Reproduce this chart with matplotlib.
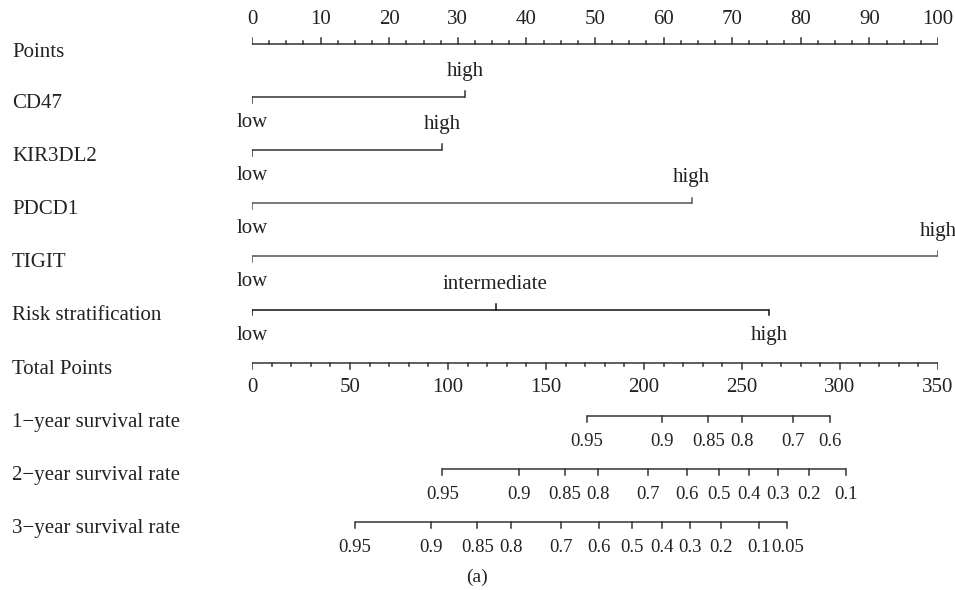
import matplotlib
matplotlib.use("Agg")
import matplotlib.pyplot as plt
import matplotlib.transforms as mtransforms

plt.rcParams['font.family'] = ['Liberation Serif', 'DejaVu Serif']

# Данные номограммы (баллы 0-100, общий балл 0-350)
row_names = ["Points", "CD47", "KIR3DL2", "PDCD1", "TIGIT", "Risk stratification",
             "Total Points", "1\u2212year survival rate", "2\u2212year survival rate",
             "3\u2212year survival rate"]

points_ticks = [0, 10, 20, 30, 40, 50, 60, 70, 80, 90, 100]
total_ticks = [0, 50, 100, 150, 200, 250, 300, 350]

cd47_levels = ["low", "high"]
cd47_points = [0, 31.1]
kir_levels = ["low", "high"]
kir_points = [0, 27.7]
pdcd1_levels = ["low", "high"]
pdcd1_points = [0, 64.1]
tigit_levels = ["low", "high"]
tigit_points = [0, 100]
risk_levels = ["low", "intermediate", "high"]
risk_points = [0, 35.5, 75.4]

surv1_labels = ["0.95", "0.9", "0.85", "0.8", "0.7", "0.6"]
surv1_total = [170.9, 209.3, 232.9, 250.1, 275.9, 294.9]
surv2_labels = ["0.95", "0.9", "0.85", "0.8", "0.7", "0.6", "0.5", "0.4", "0.3", "0.2", "0.1"]
surv2_total = [97.1, 136.1, 159.5, 176.7, 202.1, 221.7, 238.2, 253.6, 268.2, 284.0, 303.3]
surv3_labels = ["0.95", "0.9", "0.85", "0.8", "0.7", "0.6", "0.5", "0.4", "0.3", "0.2", "0.1", "0.05"]
surv3_total = [52.3, 91.4, 115.0, 132.0, 157.6, 177.1, 193.8, 209.0, 223.7, 239.4, 258.7, 273.1]

max_total = 350
fs = 15
fs_surv = 13.5
col = "#333333"
txt = "#222222"
lw = 1.1
tick_big = 0.11
tick_small = 0.055

fig = plt.figure(figsize=(9.55, 5.9), dpi=100)
ax = fig.add_axes([252 / 955, 0, 686 / 955, 1])
ax.set_xlim(0, 100)
ax.set_ylim(10.28, -0.83)
ax.axis("off")


def tp(v):
    # общий балл -> шкала баллов
    return v * 100 / max_total


# Подписи строк слева
lab_tr = mtransforms.blended_transform_factory(fig.transFigure, ax.transData)
for i, name in enumerate(row_names):
    off = 0.15 if i == 0 else 0.12
    ax.text(12 / 955, i + off, name, transform=lab_tr, fontsize=fs,
            ha="left", va="center", color=txt)

# Шкала Points
y = 0
ax.plot([0, 100], [y, y], color=col, lw=lw, solid_capstyle="butt")
minor = [k * 2.5 for k in range(41)]
for m in minor:
    h = tick_big if m in points_ticks else tick_small
    ax.plot([m, m], [y, y - h], color=col, lw=lw)
for t in points_ticks:
    ax.text(t, y - 0.46, str(t), fontsize=fs, ha="center", va="center", color=txt)


# Переменные
def var_row(y, levels, pts, below, lcolor=col):
    ax.plot([min(pts), max(pts)], [y, y], color=lcolor, lw=lw, solid_capstyle="butt")
    for lev, p, b in zip(levels, pts, below):
        if b:
            ax.plot([p, p], [y, y + tick_big], color=lcolor, lw=lw)
            ax.text(p, y + 0.48, lev, fontsize=fs, ha="center", va="center", color=txt)
        else:
            ax.plot([p, p], [y, y - tick_big], color=lcolor, lw=lw)
            ax.text(p, y - 0.48, lev, fontsize=fs, ha="center", va="center", color=txt)


var_row(1, cd47_levels, cd47_points, [True, False])
var_row(2, kir_levels, kir_points, [True, False])
var_row(3, pdcd1_levels, pdcd1_points, [True, False], "#555555")
var_row(4, tigit_levels, tigit_points, [True, False], "#555555")
var_row(5, risk_levels, risk_points, [True, False, True], "#111111")

# Total Points
y = 6
ax.plot([0, 100], [y, y], color=col, lw=lw, solid_capstyle="butt")
for m in range(0, max_total + 1, 10):
    h = tick_big if m in total_ticks else tick_small
    ax.plot([tp(m), tp(m)], [y, y + h], color=col, lw=lw)
for t in total_ticks:
    ax.text(tp(t), y + 0.46, str(t), fontsize=fs, ha="center", va="center", color=txt)

# Выживаемость
for y, labs, vals in [(7, surv1_labels, surv1_total),
                      (8, surv2_labels, surv2_total),
                      (9, surv3_labels, surv3_total)]:
    xs = [tp(v) for v in vals]
    ax.plot([min(xs), max(xs)], [y, y], color=col, lw=lw, solid_capstyle="butt")
    for x, l in zip(xs, labs):
        ax.plot([x, x], [y, y + tick_big], color=col, lw=lw)
        ax.text(x, y + 0.48, l, fontsize=fs_surv, ha="center", va="center", color=txt)

fig.text(477 / 955, 1 - 577 / 590, "(a)", fontsize=fs - 1, ha="center", va="center", color=txt)

fig.savefig("out.png", dpi=100)
